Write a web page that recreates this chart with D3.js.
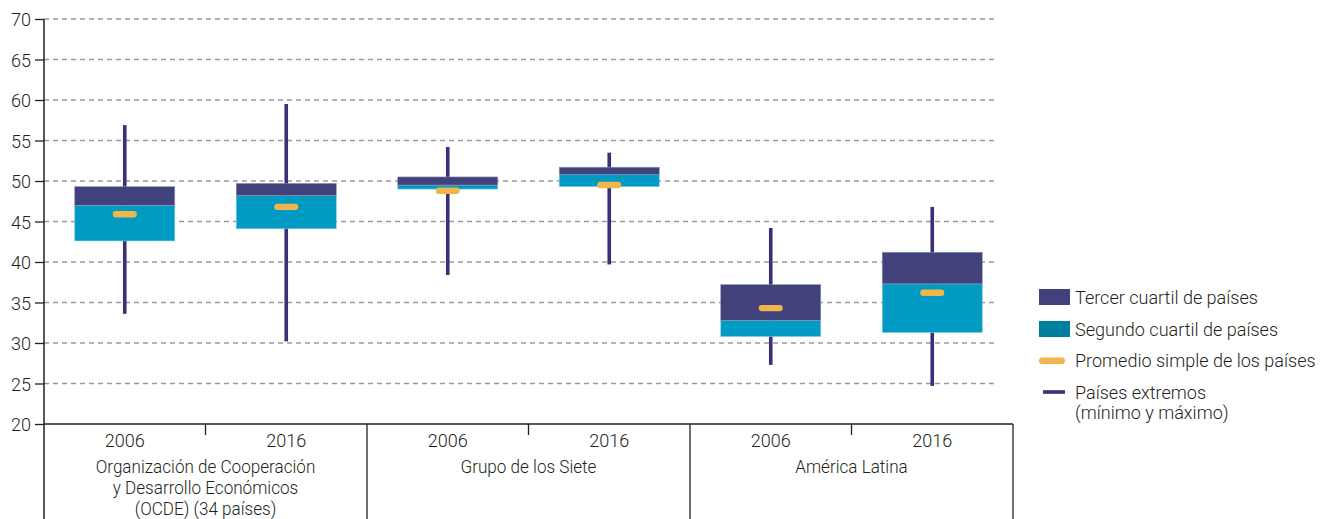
<!DOCTYPE html>
<html><head><meta charset="utf-8">
<script src="https://cdn.jsdelivr.net/npm/d3@7/dist/d3.min.js"></script>
<style>
body{margin:0;background:#fff;}
</style></head>
<body><svg id="c" width="1323" height="519"></svg>
<script>
const groups = [["Organización de Cooperación","y Desarrollo Económicos","(OCDE) (34 países)"],["Grupo de los Siete"],["América Latina"]];
const years = ["2006","2016"];
const minVals    = [33.6, 30.2, 38.4, 39.7, 27.3, 24.7];
const q1Vals     = [42.6, 44.1, 49.0, 49.3, 30.8, 31.3];
const medianVals = [47.0, 48.2, 49.5, 50.8, 32.8, 37.3];
const q3Vals     = [49.3, 49.7, 50.5, 51.7, 37.2, 41.2];
const maxVals    = [56.9, 59.5, 54.2, 53.5, 44.2, 46.8];
const meanVals   = [45.9, 46.8, 48.8, 49.5, 34.3, 36.2];
const yTicks = [20,25,30,35,40,45,50,55,60,65,70];
const legendItems = ["Tercer cuartil de países","Segundo cuartil de países","Promedio simple de los países","Países extremos","(mínimo y máximo)"];

const FONT = 'Roboto, "Liberation Sans", sans-serif';
const FS = 19;
const cv = document.createElement("canvas").getContext("2d");
cv.font = `300 ${FS}px ${FONT}`;
const SX = Math.max(0.8, Math.min(1.02, 183 / cv.measureText(legendItems[0]).width));

const cats = [];
groups.forEach((g,gi)=>years.forEach(y=>cats.push(gi+"-"+y)));
const rows = cats.map((c,i)=>({c, min:minVals[i], q1:q1Vals[i], med:medianVals[i], q3:q3Vals[i], max:maxVals[i], mean:meanVals[i]}));

const svg = d3.select("#c");
const L=44, R=1013, T=19, B=424;
const x = d3.scaleBand().domain(cats).range([L,R]);
const gx = d3.scaleBand().domain(d3.range(groups.length)).range([L,R]);
const y = d3.scaleLinear().domain([20,70]).range([B,T]);

const C_Q3="#41427b", C_Q2="#009ac3", C_Q2L="#007e9e", C_MEAN="#f0b64b", C_WH="#373179";

function txt(g, px, py, s, anchor, fs){
  return g.append("text").attr("transform",`translate(${px},${py}) scale(${SX},1)`)
    .attr("text-anchor",anchor||"start").attr("font-family",FONT).attr("font-weight",300)
    .attr("font-size",fs||FS).attr("fill","#231f20").text(s);
}

// grid
svg.append("g").selectAll("line").data(yTicks.filter(t=>t>20)).join("line")
  .attr("x1",L).attr("x2",995).attr("y1",d=>y(d)).attr("y2",d=>y(d))
  .attr("stroke","#9a9a9a").attr("stroke-width",1.3).attr("stroke-dasharray","5,4");

// y axis ticks
const ya = svg.append("g").attr("transform",`translate(${L},0)`)
  .call(d3.axisLeft(y).tickValues(yTicks).tickSize(9).tickFormat(""));
ya.select(".domain").remove();
ya.selectAll("line").attr("stroke","#231f20").attr("stroke-width",1.3);
const yl = svg.append("g");
yTicks.forEach(t=>txt(yl, 31, y(t)+7, String(t), "end"));
svg.append("line").attr("x1",L).attr("x2",L).attr("y1",T).attr("y2",519).attr("stroke","#231f20").attr("stroke-width",1.5);

// x axis line
svg.append("line").attr("x1",L).attr("x2",R).attr("y1",B).attr("y2",B).attr("stroke","#231f20").attr("stroke-width",1.5);
// group separators
svg.append("g").selectAll("line").data(d3.range(1,groups.length+1)).join("line")
  .attr("x1",d=>L+gx.bandwidth()*d).attr("x2",d=>L+gx.bandwidth()*d).attr("y1",B).attr("y2",519)
  .attr("stroke","#231f20").attr("stroke-width",1.3);
// mid ticks
svg.append("g").selectAll("line").data(d3.range(groups.length)).join("line")
  .attr("x1",d=>gx(d)+gx.bandwidth()/2).attr("x2",d=>gx(d)+gx.bandwidth()/2).attr("y1",B).attr("y2",B+11)
  .attr("stroke","#231f20").attr("stroke-width",1.3);
// year labels
const xl = svg.append("g");
cats.forEach(c=>txt(xl, x(c)+x.bandwidth()/2, 447, c.split("-")[1], "middle"));
// group labels
groups.forEach((g,gi)=>{
  g.forEach((line,li)=>txt(xl, gx(gi)+gx.bandwidth()/2, 472.5+li*21, line, "middle", 18));
});

// boxes
const bw = 100, ww = 3.6;
const bx = svg.append("g");
rows.forEach(r=>{
  const cx = x(r.c)+x.bandwidth()/2;
  bx.append("rect").attr("x",cx-ww/2).attr("width",ww).attr("y",y(r.max)).attr("height",y(r.min)-y(r.max)).attr("fill",C_WH);
  bx.append("rect").attr("x",cx-bw/2).attr("width",bw).attr("y",y(r.med)).attr("height",y(r.q1)-y(r.med)).attr("fill",C_Q2)
    .attr("stroke","#7fcde3").attr("stroke-width",0.6);
  bx.append("rect").attr("x",cx-bw/2).attr("width",bw).attr("y",y(r.q3)).attr("height",y(r.med)-y(r.q3)).attr("fill",C_Q3)
    .attr("stroke","#8d8fb5").attr("stroke-width",0.6);
  bx.append("rect").attr("x",cx-12).attr("width",24).attr("y",y(r.mean)-3.2).attr("height",6.4).attr("rx",3).attr("fill",C_MEAN);
});

// legend
const lg = svg.append("g");
lg.append("rect").attr("x",1039).attr("y",289).attr("width",31).attr("height",16).attr("fill",C_Q3);
lg.append("rect").attr("x",1039).attr("y",321).attr("width",31).attr("height",16).attr("fill",C_Q2L);
lg.append("rect").attr("x",1039).attr("y",357.5).attr("width",26).attr("height",6.5).attr("rx",3.2).attr("fill",C_MEAN);
lg.append("rect").attr("x",1043).attr("y",390.2).attr("width",22).attr("height",3.6).attr("fill",C_WH);
const lyBase = [303.5, 335.5, 367, 398.5, 418.5];
legendItems.forEach((t,i)=>txt(lg, 1075, lyBase[i], t, "start"));
</script></body></html>
